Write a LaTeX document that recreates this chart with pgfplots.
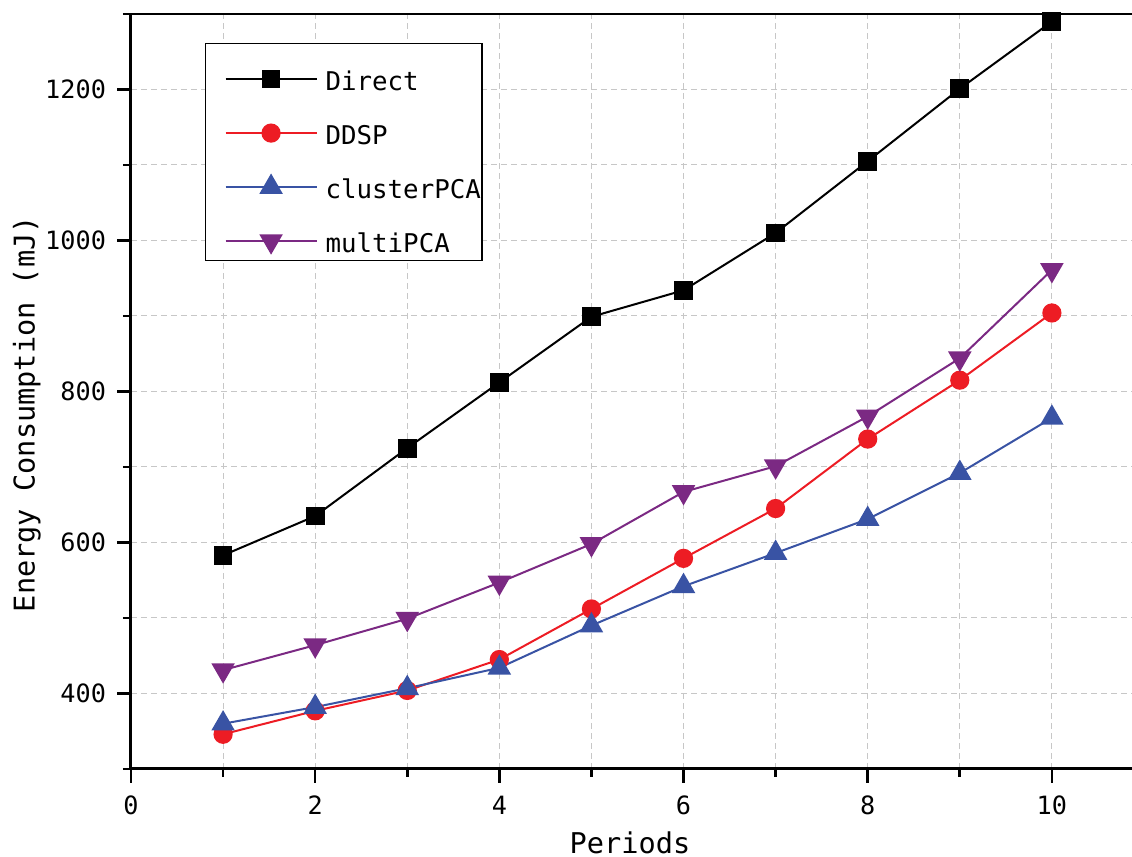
\documentclass[border=0pt]{standalone}
\usepackage{fontspec}
\setmainfont{DejaVu Sans Mono}
\usepackage{pgfplots}
\pgfplotsset{compat=1.18}

\definecolor{ddspred}{RGB}{237,28,36}
\definecolor{clusterblue}{RGB}{57,83,164}
\definecolor{multipurple}{RGB}{123,41,131}

\begin{document}
\begin{tikzpicture}
\begin{axis}[
  scale only axis,
  width=500.5pt, height=377.5pt,
  xmin=0, xmax=10.87, ymin=300, ymax=1300,
  axis x line*=bottom, axis y line*=left,
  axis line style={line width=1.5pt, black},
  xtick={0,2,...,10}, minor xtick={1,3,...,9},
  ytick={400,600,...,1200}, minor ytick={300,500,...,1300},
  tick align=outside,
  major tick length=7pt, minor tick length=4pt,
  every tick/.style={black, line width=1.3pt},
  grid=both,
  major grid style={densely dashed, black!22, line width=0.5pt},
  minor grid style={densely dashed, black!22, line width=0.5pt},
  /pgf/number format/assume math mode=true,
  /pgf/number format/1000 sep={},
  tick label style={font=\fontsize{12.6}{15}\selectfont},
  xticklabel style={yshift=-3pt},
  yticklabel style={xshift=-2pt},
  label style={font=\fontsize{14.3}{17}\selectfont},
  xlabel={Periods},
  ylabel={Energy Consumption (mJ)},
  xlabel style={at={(axis description cs:0.4985,-0.0975)}, anchor=center},
  ylabel style={at={(axis description cs:-0.104,0.47)}, anchor=center},
  legend cell align=left,
  legend image code/.code={%
    \path[draw=none] (-10pt,-4pt) -- (49.5pt,-4pt);
    \draw[mark repeat=2, mark phase=2]
      plot coordinates {(0pt,-4pt) (22.75pt,-4pt) (45.5pt,-4pt)};},
  legend style={
    at={(0.0739,0.9616)}, anchor=north west,
    draw=black, line width=0.6pt,
    inner xsep=0pt, inner ysep=2.5pt,
    row sep=4.5pt,
    font=\fontsize{12.9}{15}\selectfont,
    nodes={inner xsep=0.5pt, inner ysep=0pt, text height=21pt, text depth=1.5pt},
  },
]
\addplot[black, line width=1pt, mark=square*, mark size=4.2pt,
  mark options={solid, fill=black}]
  coordinates {(1,583) (2,635) (3,725) (4,812) (5,899) (6,934) (7,1010) (8,1105) (9,1201) (10,1290)};
\addlegendentry{Direct}
\addplot[ddspred, line width=1pt, mark=*, mark size=4.3pt,
  mark options={solid, fill=ddspred, draw=ddspred}]
  coordinates {(1,346) (2,377) (3,404) (4,445) (5,512) (6,579) (7,645) (8,737) (9,815) (10,904)};
\addlegendentry{DDSP}
\addplot[clusterblue, line width=1pt, mark=triangle*, mark size=5.8pt,
  mark options={solid, fill=clusterblue, draw=clusterblue}]
  coordinates {(1,360) (2,382) (3,407) (4,434) (5,490) (6,542) (7,586) (8,631) (9,692) (10,765)};
\addlegendentry{clusterPCA}
\addplot[multipurple, line width=1pt, mark=triangle*, mark size=5.8pt,
  mark options={solid, fill=multipurple, draw=multipurple, rotate=180}]
  coordinates {(1,431) (2,464) (3,499) (4,547) (5,598) (6,667) (7,701) (8,767) (9,844) (10,961)};
\addlegendentry{multiPCA}
% top frame line
\draw[line width=1.5pt, black] (rel axis cs:0,1) -- (rel axis cs:1,1);
\end{axis}
\pgfresetboundingbox
\path[use as bounding box]
  ([shift={(-65.5pt,-44pt)}]current axis.south west)
  rectangle ([shift={(0pt,7pt)}]current axis.north east);
\end{tikzpicture}
\end{document}
